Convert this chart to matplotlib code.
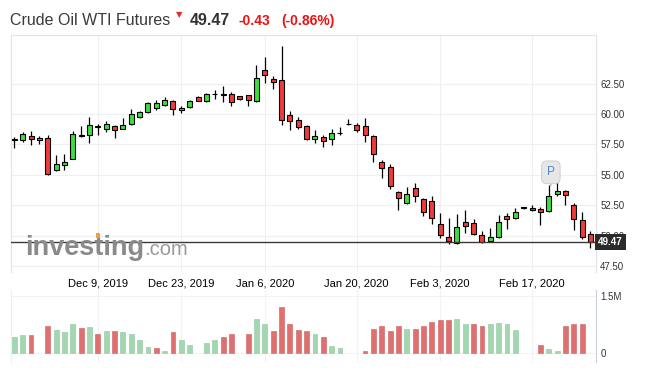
import matplotlib
matplotlib.use("Agg")
import matplotlib.pyplot as plt
import matplotlib.transforms as mtransforms
from matplotlib.patches import Rectangle
import numpy as np

plt.rcParams['font.family'] = ['Liberation Sans', 'DejaVu Sans']

# ---------------- data ----------------
opens = [57.88, 57.84, 58.16, 57.83, 58.00, 55.37, 55.83, 56.32, 58.19, 58.24,
         58.92, 58.79, 58.98, 58.79, 59.20, 59.77, 60.13, 60.46, 60.76, 61.06,
         60.30, 60.54, 61.37, 61.09, 61.62, 61.61, 61.64, 61.45, 61.53, 61.09,
         63.58, 62.85, 62.76, 59.89, 59.50, 58.98, 57.91, 58.10, 57.96, 58.43,
         59.15, 59.11, 59.03, 58.16, 56.03, 55.61, 53.56, 52.66, 53.89, 52.98,
         52.82, 50.93, 49.86, 49.40, 51.10, 51.01, 50.03, 49.53, 49.86, 51.59,
         51.42, 52.27, 52.24, 52.16, 52.00, 53.40, 53.64, 52.49, 51.26, 50.11]
highs = [58.10, 58.49, 58.60, 58.19, 58.24, 56.62, 56.71, 58.60, 58.98, 59.72,
         59.17, 59.42, 59.09, 59.64, 60.38, 60.24, 61.00, 61.14, 61.39, 61.14,
         60.65, 61.14, 61.47, 61.74, 61.97, 62.29, 61.83, 61.47, 61.55, 64.02,
         64.65, 63.09, 65.58, 60.24, 59.72, 59.07, 58.68, 58.24, 58.76, 58.90,
         59.56, 59.23, 59.64, 58.24, 56.21, 55.86, 53.67, 53.99, 54.32, 53.09,
         53.26, 51.86, 51.42, 51.75, 52.08, 51.34, 50.35, 50.60, 51.67, 51.83,
         52.24, 52.36, 52.49, 52.33, 54.14, 54.80, 53.72, 52.66, 51.92, 50.35]
lows = [57.20, 57.72, 57.47, 57.55, 54.96, 55.29, 55.37, 56.27, 58.08, 57.64,
        58.24, 58.49, 58.05, 58.74, 59.11, 59.69, 60.05, 60.30, 60.68, 59.94,
        60.05, 60.46, 61.04, 61.00, 61.20, 61.00, 60.63, 61.18, 60.63, 61.00,
        62.57, 62.07, 59.11, 58.65, 58.79, 57.88, 57.64, 57.31, 57.47, 58.24,
        59.07, 58.54, 57.67, 56.03, 54.76, 53.81, 52.08, 52.57, 52.76, 51.64,
        50.93, 49.78, 49.29, 49.29, 50.19, 50.08, 49.37, 49.45, 49.78, 50.57,
        51.34, 52.20, 52.00, 50.85, 51.92, 53.23, 52.49, 50.44, 49.70, 48.96]
closes = [57.92, 58.33, 57.96, 58.02, 55.04, 55.86, 56.03, 58.36, 58.30, 59.07,
          58.98, 59.15, 58.65, 59.07, 59.97, 60.16, 60.92, 60.90, 61.14, 60.38,
          60.49, 61.04, 61.09, 61.61, 61.66, 61.60, 60.96, 61.20, 61.14, 62.93,
          63.17, 62.60, 59.52, 59.46, 58.95, 57.96, 58.16, 57.75, 58.41, 58.47,
          59.17, 58.65, 58.24, 56.68, 55.53, 54.08, 53.07, 53.40, 53.26, 51.97,
          51.42, 50.03, 49.53, 50.68, 50.82, 50.16, 49.45, 49.86, 51.10, 51.34,
          51.92, 52.31, 52.08, 51.92, 53.23, 53.64, 53.31, 51.34, 49.90, 49.47]
nan = float('nan')
volumes_m = [0.43, 0.46, 0.46, nan, 0.72, 0.61, 0.56, 0.77, 0.66, 0.69,
             0.51, 0.59, 0.59, 0.54, 0.51, 0.35, 0.17, 0.13, 0.04, 0.56,
             0.33, 0.22, nan, 0.27, 0.35, 0.43, 0.51, nan, 0.51, 0.90,
             0.75, 0.59, 1.22, 0.77, 0.61, 0.59, 0.51, 0.43, 0.19, 0.14,
             nan, nan, 0.06, 0.63, 0.71, 0.58, 0.71, 0.63, 0.63, 0.71,
             0.82, 0.87, 0.87, 0.89, 0.77, 0.77, 0.71, 0.75, 0.80, 0.75,
             0.61, nan, nan, 0.21, 0.11, 0.04, 0.71, 0.77, 0.77, nan]
date_tick_pos = [10, 20, 30, 41, 51, 62]
date_tick_labels = ["Dec 9, 2019", "Dec 23, 2019", "Jan 6, 2020",
                    "Jan 20, 2020", "Feb 3, 2020", "Feb 17, 2020"]
price_ticks = [47.5, 50.0, 52.5, 55.0, 57.5, 60.0, 62.5]
volume_ticks = [0, 1.5]
volume_tick_labels = ["0", "1.5M"]
title = "Crude Oil WTI Futures"
last_price = "49.47"
change = "-0.43"
change_pct = "(-0.86%)"
marker_index = 64

# ---------------- layout helpers ----------------
W, H = 648, 375
def rect(l, t, r, b):
    return [l / W, 1 - b / H, (r - l) / W, (b - t) / H]

fig = plt.figure(figsize=(W / 100, H / 100), dpi=100)
fig.patch.set_facecolor('white')

GREEN = '#3ce03c'
RED = '#f23a3a'
VGREEN = '#a3d7b0'
VRED = '#e07070'
GRID = '#f0f0f0'
TXT = '#333333'

# ---------------- volume panel (drawn first, transparent) ----------------
vax = fig.add_axes(rect(11, 290, 596, 362))
vax.patch.set_alpha(0)
n = len(closes)
x = np.arange(n)
vol = np.array(volumes_m, dtype=float)
cl = np.array(closes)
up = np.r_[True, cl[1:] >= cl[:-1]]
valid = ~np.isnan(vol)
vcols = np.where(up, VGREEN, VRED)
vedges = np.where(up, '#8cc79b', '#cc5c5c')
vax.bar(x[valid], vol[valid], width=0.58, color=vcols[valid],
        edgecolor=vedges[valid], lw=0.4, zorder=3)
vax.set_xlim(-0.4, 69.66)
vax.set_ylim(-0.237, 1.655)
vax.set_yticks(volume_ticks)
vax.set_yticklabels(volume_tick_labels)
vax.yaxis.tick_right()
vax.tick_params(axis='y', length=0, pad=3, labelsize=7, labelcolor=TXT)
vax.set_xticks(date_tick_pos)
vax.tick_params(axis='x', length=0, labelbottom=False)
vax.grid(True, color='#f3f3f3', lw=0.8)
vax.set_axisbelow(True)
vax.spines['top'].set_visible(False)
vax.spines['bottom'].set_visible(False)
vax.spines['left'].set_color('#eeeeee')
vax.spines['right'].set_color('#c8d0dc')

# ---------------- price panel ----------------
ax = fig.add_axes(rect(11, 35, 596, 272))
ax.patch.set_alpha(0)
for i in x:
    o, h, l, c = opens[i], highs[i], lows[i], closes[i]
    col = GREEN if c >= o else RED
    ax.vlines(i, l, h, color='black', lw=0.9, zorder=3)
    ax.add_patch(Rectangle((i - 0.3, min(o, c)), 0.6, max(abs(c - o), 0.02),
                           facecolor=col, edgecolor='black', lw=0.8, zorder=4))

ax.set_xlim(-0.4, 69.66)
ax.set_ylim(47.0, 66.5)
ax.set_yticks(price_ticks)
ax.set_yticklabels([f"{v:.2f}" for v in price_ticks])
ax.yaxis.tick_right()
ax.tick_params(axis='y', length=0, pad=3, labelsize=7, labelcolor=TXT)
ax.set_xticks(date_tick_pos)
ax.set_xticklabels(date_tick_labels)
ax.tick_params(axis='x', length=0, pad=5, labelsize=8, labelcolor='black')
ax.grid(True, color=GRID, lw=0.8)
ax.set_axisbelow(True)
for s in ['left', 'top', 'right']:
    ax.spines[s].set_color('#e2e2e2')
    ax.spines[s].set_linewidth(0.8)
ax.spines['bottom'].set_visible(False)

# current price line and label
last_close = closes[-1]
ax.axhline(last_close, color='#3a3a3a', lw=1.0, zorder=5)
trans = mtransforms.blended_transform_factory(ax.transAxes, ax.transData)
ax.text(1.004, last_close, f"{last_close:.2f}", transform=trans, ha='left',
        va='center', color='white', fontsize=7, fontweight='bold', zorder=10,
        bbox=dict(boxstyle='square,pad=0.3', fc='#2b2b2b', ec='none'))

# "P" marker
ax.annotate('P', xy=(marker_index + 0.25, highs[marker_index]),
            xytext=(0, 5), textcoords='offset points', ha='center', va='bottom',
            fontsize=8.5, color='#4f86cf', zorder=6,
            bbox=dict(boxstyle='round,pad=0.45', fc='#e7e7e7', ec='#d2d2d2', lw=0.8),
            arrowprops=dict(arrowstyle='-', color='#bbbbbb', lw=1.2,
                            shrinkA=0, shrinkB=0))

# ---------------- watermark ----------------
wm_base = 1 - 255 / H
wm_props = dict(fontsize=19.5, fontweight='bold', va='baseline', ha='left')
wm = fig.text(25 / W, wm_base, 'investing', color='#8a8a8a', zorder=1, **wm_props)
fig.canvas.draw()
r = fig.canvas.get_renderer()
bb = wm.get_window_extent(r)
tmp = fig.text(25 / W, wm_base, 'inves', **wm_props)
bb_part = tmp.get_window_extent(r)
tmp.remove()
fig.text(bb.x1 / W, wm_base, '.com', fontsize=14.5, color='#9a9a9a',
         va='baseline', ha='left', zorder=1)
t_x = bb_part.x1 + 1.5
fig.patches.append(Rectangle((t_x / W, 1 - 238 / H), 4 / W, 5 / H,
                             transform=fig.transFigure, facecolor='#f0a040',
                             edgecolor='none', zorder=2))

# ---------------- header ----------------
base = 1 - 25 / H
fig.text(10 / W, base, title, fontsize=11.5, color='#3a3a3a', va='baseline', ha='left')
fig.text(179.5 / W, 1 - 14.5 / H, '\u25bc', fontsize=6, color='#e03030',
         va='center', ha='center', family='DejaVu Sans')
fig.text(190 / W, base, last_price, fontsize=11.5, fontweight='bold',
         color='#333333', va='baseline', ha='left')
fig.text(239 / W, base, change, fontsize=10, fontweight='bold',
         color='#ee1111', va='baseline', ha='left')
fig.text(281 / W, base, change_pct, fontsize=10, fontweight='bold',
         color='#ee1111', va='baseline', ha='left')

fig.savefig('out.png', dpi=100, facecolor='white')
